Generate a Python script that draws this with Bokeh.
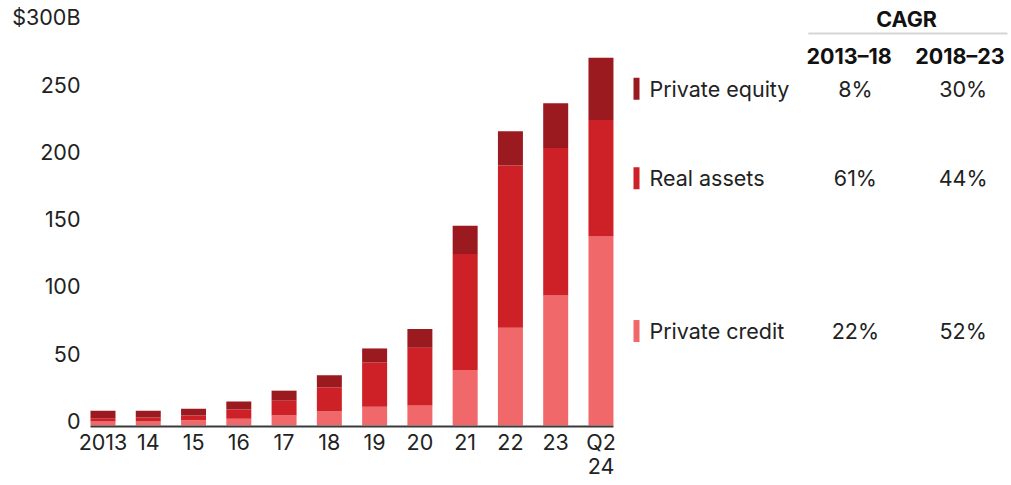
from bokeh.plotting import figure
from bokeh.models import ColumnDataSource, Range1d
from bokeh.core.properties import value
from bokeh.embed import file_html
from bokeh.resources import INLINE

# ---- data ----
categories = ["2013", "14", "15", "16", "17", "18", "19", "20", "21", "22", "23", "Q2\n24"]
private_credit = [3, 3, 4, 5, 7.5, 10.5, 14, 15, 41.5, 73, 97, 141]
real_assets = [2.5, 3, 3.5, 7, 11, 18, 33, 43, 86.5, 121, 110, 87]
private_equity = [5.5, 5, 5, 6, 7.5, 9, 10.5, 14, 21, 25.5, 33.5, 46.5]
series_names = ["Private credit", "Real assets", "Private equity"]
series_colors = ["#f1686b", "#ce2027", "#9b1a1f"]
cagr_2013_18 = ["22%", "61%", "8%"]
cagr_2018_23 = ["52%", "44%", "30%"]
y_ticks = [0, 50, 100, 150, 200, 250, 300]
y_tick_labels = ["0", "50", "100", "150", "200", "250", "$300B"]

FONT = "Inter"
FS = "21.5px"
TXT = "#222222"
PX_X = 45.27   # px per category step
PX_Y = 1.34    # px per $B

W, H = 1010, 484
X0, Y0 = 102.5, 425.0   # screen position of first bar centre / zero line

xs = list(range(len(categories)))
src = ColumnDataSource(dict(x=xs, pc=private_credit, ra=real_assets, pe=private_equity))

p = figure(width=W, height=H, output_backend="svg", toolbar_location=None,
           x_range=Range1d(-X0 / PX_X, (W - X0) / PX_X),
           y_range=Range1d((Y0 - H) / PX_Y, Y0 / PX_Y),
           min_border_left=0, min_border_right=0, min_border_top=0, min_border_bottom=0)
p.outline_line_color = None
p.grid.visible = False
p.axis.visible = False
p.background_fill_color = "white"

BAR_W = 0.552
p.vbar_stack(["pc", "ra", "pe"], x="x", width=BAR_W, color=series_colors, source=src,
             line_color=None)

# baseline (x axis line)
p.segment(x0=[xs[0] - BAR_W / 2], y0=[-0.8], x1=[xs[-1] + BAR_W / 2], y1=[-0.8],
          line_color="#3a3a3a", line_width=2)

# x tick labels
line1 = [c.split("\n")[0] for c in categories]
line2 = [c.split("\n")[1] if "\n" in c else "" for c in categories]
p.text(x=xs, y=[-16 / PX_Y] * len(xs), text=line1, text_align="center", text_baseline="middle",
       text_font=value(FONT), text_font_size=FS, text_color=TXT)
p.text(x=xs, y=[-40.5 / PX_Y] * len(xs), text=line2, text_align="center", text_baseline="middle",
       text_font=value(FONT), text_font_size=FS, text_color=TXT)

# y tick labels
p.text(x=[-22.5 / PX_X] * len(y_ticks), y=[t * 1.004 + 4.5 / PX_Y for t in y_ticks],
       text=y_tick_labels, text_align="right", text_baseline="middle",
       text_font=value(FONT), text_font_size=FS, text_color=TXT)

# ---- legend / CAGR table aligned with the last bar's segments ----
last = len(categories) - 1
vals = [private_credit[last], real_assets[last], private_equity[last]]
mids = []
acc = 0
for v in vals:
    mids.append(acc + v / 2)
    acc += v

p.rect(x=[11.785] * 3, y=mids, width=6, height=22, width_units="screen",
       height_units="screen", color=series_colors, line_color=None)
p.text(x=[12.07] * 3, y=mids, text=series_names, text_align="left", text_baseline="middle",
       text_font=value(FONT), text_font_size=FS, text_color=TXT)
p.text(x=[16.62] * 3, y=mids, text=cagr_2013_18, text_align="center", text_baseline="middle",
       text_font=value(FONT), text_font_size=FS, text_color=TXT)
p.text(x=[19.0] * 3, y=mids, text=cagr_2018_23, text_align="center", text_baseline="middle",
       text_font=value(FONT), text_font_size=FS, text_color=TXT)

p.text(x=[16.48, 18.93], y=[275.4, 275.4], text=["2013\u201318", "2018\u201323"],
       text_align="center", text_baseline="middle", text_font=value(FONT),
       text_font_size=FS, text_font_style="bold", text_color="#111111")
p.text(x=[17.75], y=[303.2], text=["CAGR"], text_align="center", text_baseline="middle",
       text_font=value(FONT), text_font_size=FS, text_font_style="bold", text_color="#111111")
p.segment(x0=[15.58], y0=[292.5], x1=[19.98], y1=[292.5], line_color="#d6d6d6", line_width=2)

open("out.html", "w").write(file_html(p, INLINE))
